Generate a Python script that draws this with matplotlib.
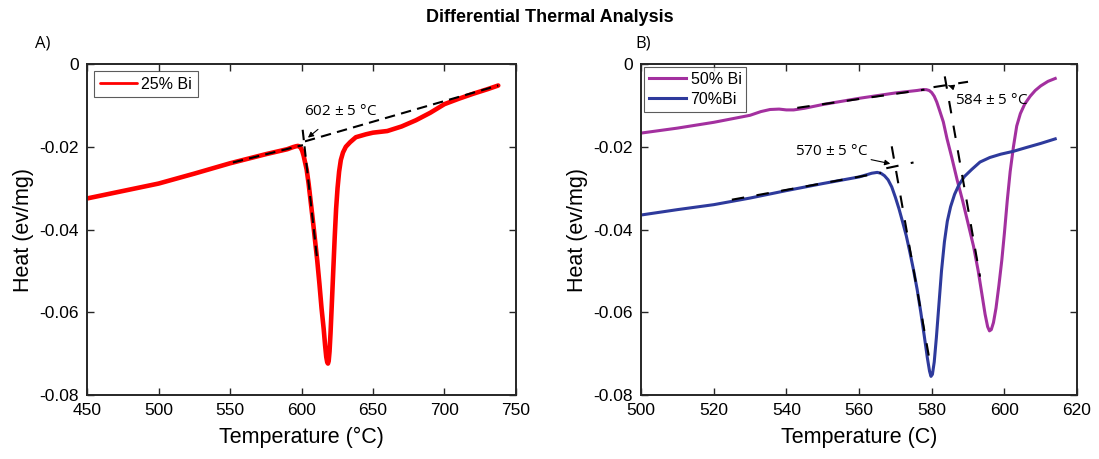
import matplotlib
matplotlib.use("Agg")
import matplotlib.pyplot as plt

# ---------------- data ----------------
# Panel A: 25% Bi
tA = [450, 475, 500, 525, 550, 575, 590, 594, 596, 597.5, 598.5, 599.5, 600.5, 601.5,
      602.5, 603.6, 605, 608, 611, 612.5, 614, 615.5, 616.5, 617.3, 618, 618.5, 619,
      619.6, 620.3, 621.2, 622.2, 623.2, 624.2, 625.2, 626.3, 627.5, 629, 631, 634, 638,
      645, 650, 660, 670, 680, 690, 700, 710, 720, 730, 737.6]
hA = [-0.0325, -0.0307, -0.0289, -0.0265, -0.0240, -0.0218, -0.0206, -0.0201, -0.0199,
      -0.0198, -0.0199, -0.0203, -0.0210, -0.0222, -0.0238, -0.0255, -0.0290, -0.0380,
      -0.0475, -0.0530, -0.0590, -0.0640, -0.0680, -0.0708, -0.0721, -0.0724, -0.0718,
      -0.0695, -0.0650, -0.0580, -0.0500, -0.0420, -0.0350, -0.0300, -0.0260, -0.0232,
      -0.0214, -0.0200, -0.0189, -0.0177, -0.0170, -0.0166, -0.0162, -0.0151, -0.0136,
      -0.0118, -0.0097, -0.0084, -0.0072, -0.0061, -0.0052]
labelA = "25% Bi"

# Panel B: 50% Bi and 70% Bi
tB50 = [500, 510, 520, 530, 533, 535.5, 538, 540, 542, 545, 550, 560, 570, 576, 577.5,
        578.5, 579.3, 580, 580.7, 581.4, 582.2, 583.2, 584.2, 585.5, 587, 588.5, 590,
        591.5, 592.8, 593.8, 594.7, 595.4, 595.9, 596.4, 597, 597.7, 598.5, 599.3, 600,
        600.8, 601.6, 602.5, 603.4, 604.4, 605.6, 607.1, 608.5, 610, 612, 614]
h50 = [-0.0167, -0.0155, -0.0141, -0.0124, -0.0115, -0.0110, -0.0109, -0.0111, -0.0111,
       -0.0107, -0.0098, -0.0083, -0.0070, -0.0064, -0.0062, -0.0062, -0.0064, -0.0069,
       -0.0078, -0.0092, -0.0113, -0.0140, -0.0180, -0.0225, -0.0280, -0.0330, -0.0385,
       -0.0440, -0.0500, -0.0555, -0.0605, -0.0635, -0.0645, -0.0642, -0.0625, -0.0590,
       -0.0535, -0.0474, -0.0410, -0.0330, -0.0260, -0.0200, -0.0150, -0.0120, -0.0097,
       -0.0078, -0.0064, -0.0053, -0.0042, -0.0035]
tB70 = [500, 510, 520, 530, 540, 550, 560, 562, 563.5, 565, 566, 567, 568, 569, 570,
        571, 572, 573, 574, 575, 576, 577, 578, 578.8, 579.4, 579.8, 580.2, 580.7, 581.3,
        582, 582.7, 583.5, 584.3, 585.2, 586.3, 587.5, 589, 591, 593.3, 596, 599, 602.5,
        606, 610, 614]
h70 = [-0.0365, -0.0352, -0.0340, -0.0324, -0.0306, -0.0289, -0.0273, -0.0268, -0.0264,
       -0.0262, -0.0264, -0.0270, -0.0280, -0.0297, -0.0322, -0.0350, -0.0382, -0.0415,
       -0.0455, -0.0498, -0.0545, -0.0600, -0.0660, -0.0710, -0.0742, -0.0755, -0.0750,
       -0.0720, -0.0660, -0.0580, -0.0500, -0.0430, -0.0380, -0.0345, -0.0315, -0.0292,
       -0.0272, -0.0255, -0.0237, -0.0226, -0.0218, -0.0211, -0.0202, -0.0192, -0.0181]
label50 = "50% Bi"
label70 = "70%Bi"

# tangent (onset construction) lines
tanA_base_t = [552, 601]
tanA_base_h = [-0.0238, -0.0196]
tanA_upper_t = [602.4, 737.6]
tanA_upper_h = [-0.0187, -0.0052]
tanA_steep_t = [600.8, 611]
tanA_steep_h = [-0.0159, -0.0474]

tan50_base_t = [543, 578]
tan50_base_h = [-0.0106, -0.0062]
tan50_ext_t = [580.5, 590]
tan50_ext_h = [-0.0056, -0.0043]
tan50_steep_t = [583.6, 593.3]
tan50_steep_h = [-0.0030, -0.0514]

tan70_base_t = [525, 566]
tan70_base_h = [-0.0328, -0.0263]
tan70_ext_t = [567.5, 575]
tan70_ext_h = [-0.0252, -0.0238]
tan70_steep_t = [569, 579.5]
tan70_steep_h = [-0.0199, -0.0720]

onsetA = "602 $\\pm$ 5 °C"
onset50 = "584 $\\pm$ 5 °C"
onset70 = "570 $\\pm$ 5 °C"

# ---------------- styling ----------------
plt.rcParams['font.family'] = ['Liberation Sans', 'DejaVu Sans']
plt.rcParams['mathtext.fontset'] = 'custom'
plt.rcParams['mathtext.rm'] = 'Open Sans'

red = '#ff0000'
purple = '#a3309f'
blue = '#2e3a9c'
spine_col = '#262626'

fig = plt.figure(figsize=(10.99, 4.59), dpi=100)
axA = fig.add_axes([0.0792, 0.1394, 0.3903, 0.7212])
axB = fig.add_axes([0.5833, 0.1394, 0.3967, 0.7212])

dash = (0, (5, 3))

def style(ax):
    for s in ax.spines.values():
        s.set_color(spine_col)
        s.set_linewidth(1.4)
    ax.tick_params(direction='in', top=True, right=True, length=5, width=1.0,
                   color=spine_col, labelsize=12.5, pad=6)
    ax.set_ylim(-0.08, 0)
    ax.set_yticks([-0.08, -0.06, -0.04, -0.02, 0])
    ax.set_yticklabels(['-0.08', '-0.06', '-0.04', '-0.02', '0'])
    ax.set_ylabel('Heat (ev/mg)', fontsize=15.5, labelpad=4)

# Panel A
axA.plot(tA, hA, color=red, lw=3.3, label=labelA, solid_capstyle='round',
         solid_joinstyle='round')
axA.plot(tanA_base_t, tanA_base_h, color='black', lw=1.5, ls=dash)
axA.plot(tanA_upper_t, tanA_upper_h, color='black', lw=1.5, ls=dash)
axA.plot(tanA_steep_t, tanA_steep_h, color='black', lw=1.5, ls=dash)
axA.annotate(onsetA, xy=(604.5, -0.0178), xytext=(627, -0.0114),
             ha='center', va='center', fontsize=11, family='Open Sans',
             arrowprops=dict(arrowstyle='-|>', color='black', lw=0.8,
                             mutation_scale=8, shrinkA=9, shrinkB=0))
axA.set_xlim(450, 750)
axA.set_xticks([450, 500, 550, 600, 650, 700, 750])
axA.set_xlabel('Temperature (°C)', fontsize=15.5, labelpad=6)
style(axA)
legA = axA.legend(loc='upper left', fontsize=11.5, frameon=True, fancybox=False,
                  edgecolor='#333333', handlelength=2.3, borderpad=0.35,
                  handletextpad=0.3, borderaxespad=0.45)
legA.get_frame().set_linewidth(0.8)
for l in legA.get_lines():
    l.set_linewidth(2)

# Panel B
axB.plot(tB50, h50, color=purple, lw=2.2, label=label50, solid_joinstyle='round')
axB.plot(tB70, h70, color=blue, lw=2.2, label=label70, solid_joinstyle='round')
for tt, hh in [(tan50_base_t, tan50_base_h), (tan50_ext_t, tan50_ext_h),
               (tan50_steep_t, tan50_steep_h), (tan70_base_t, tan70_base_h),
               (tan70_ext_t, tan70_ext_h), (tan70_steep_t, tan70_steep_h)]:
    axB.plot(tt, hh, color='black', lw=1.5, ls=(0, (6, 6)))
axB.annotate(onset50, xy=(584.6, -0.0052), xytext=(596.5, -0.0088),
             ha='center', va='center', fontsize=11, family='Open Sans',
             arrowprops=dict(arrowstyle='-|>', color='black', lw=0.8,
                             mutation_scale=8, shrinkA=10, shrinkB=0))
axB.annotate(onset70, xy=(568.6, -0.0241), xytext=(552.5, -0.0211),
             ha='center', va='center', fontsize=11, family='Open Sans',
             arrowprops=dict(arrowstyle='-|>', color='black', lw=0.8,
                             mutation_scale=8, shrinkA=38, shrinkB=0))
axB.set_xlim(500, 620)
axB.set_xticks([500, 520, 540, 560, 580, 600, 620])
axB.set_xlabel('Temperature (C)', fontsize=15.5, labelpad=6)
style(axB)
legB = axB.legend(loc='upper left', fontsize=11.5, frameon=True, fancybox=False,
                  edgecolor='#333333', handlelength=2.3, borderpad=0.3,
                  handletextpad=0.3, borderaxespad=0.2, labelspacing=0.3)
legB.get_frame().set_linewidth(0.8)

fig.text(0.5, 0.962, 'Differential Thermal Analysis', ha='center', va='center',
         fontsize=13, fontweight='bold')
fig.text(0.032, 0.905, 'A)', ha='left', va='center', fontsize=12, family='Open Sans')
fig.text(0.578, 0.905, 'B)', ha='left', va='center', fontsize=12, family='Open Sans')

fig.savefig('out.png', dpi=100)
